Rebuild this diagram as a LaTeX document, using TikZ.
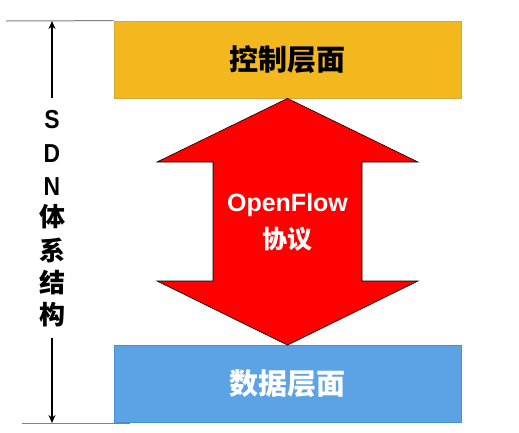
\documentclass[tikz,border=0pt]{standalone}
\usepackage{fontspec}
\usepackage{graphicx}
\setmainfont{Liberation Sans}
\newfontfamily\cjk{Noto Sans CJK SC}[BoldFont={Noto Sans CJK SC Black}]
\usetikzlibrary{arrows.meta}
\definecolor{ctrlfill}{HTML}{F2B81E}
\definecolor{ctrlline}{HTML}{D8A83C}
\definecolor{datafill}{HTML}{5CA3E6}
\definecolor{dataline}{HTML}{4A8ED2}
\definecolor{guide}{HTML}{808080}
\newcommand{\narrowtxt}[1]{\scalebox{0.88}[1]{#1}}
\begin{document}
\begin{tikzpicture}[x=1pt,y=-1pt,
  layer/.style={draw, line width=0.8pt, minimum width=347pt, minimum height=77pt, inner sep=0pt, font=\cjk\bfseries\fontsize{29}{31}\selectfont},
  vlbl/.style={font=\bfseries\fontsize{26}{28}\selectfont, inner sep=0pt},
  vcjk/.style={font=\cjk\bfseries\fontsize{26}{28}\selectfont, inner sep=0pt},
  dimarrow/.style={line width=1.3pt, -{Stealth[length=8pt,width=7pt]}}]
\useasboundingbox (0,0) rectangle (519,432);
% layers
\node[layer, fill=ctrlfill, draw=ctrlline, text=black] (ctrl) at (287.5,59.5) {控制层面};
\node[layer, fill=datafill, draw=dataline, text=white] (data) at (287.5,384) {数据层面};
% double arrow
\filldraw[fill=red, draw=black, line width=0.6pt]
  (ctrl.south) -- (418,162) -- (362,162) -- (362,281) -- (418,281) -- (data.north)
  -- (157,281) -- (213,281) -- (213,162) -- (157,162) -- cycle;
\node[font=\bfseries\fontsize{25}{27}\selectfont, text=white] (proto) at (287.5,205) {OpenFlow};
\node[font=\cjk\bfseries\fontsize{25}{27}\selectfont, text=white] (protocn) at (287.5,239) {协议};
% guide lines
\coordinate (topL) at (6,21);
\coordinate (topA) at (52,21);
\coordinate (botL) at (22,423);
\coordinate (botR) at (130,423);
\coordinate (botA) at (52,423);
\draw[guide, line width=1pt] (topL) -- (ctrl.north west);
\draw[guide, line width=1pt] (botL) -- (botR);
% vertical label
\node[vlbl] (s) at (52,120) {\narrowtxt{S}};
\node[vlbl] (d) at (52,154) {\narrowtxt{D}};
\node[vlbl] (n) at (52,187) {\narrowtxt{N}};
\node[vcjk] (c1) at (52,217) {体};
\node[vcjk] (c2) at (52,250) {系};
\node[vcjk] (c3) at (52,283) {结};
\node[vcjk] (c4) at (52,315) {构};
\coordinate (upStart) at (52,98);
\coordinate (dnStart) at (52,338);
\draw[dimarrow] (upStart) -- (topA);
\draw[dimarrow] (dnStart) -- (botA);
\end{tikzpicture}
\end{document}
